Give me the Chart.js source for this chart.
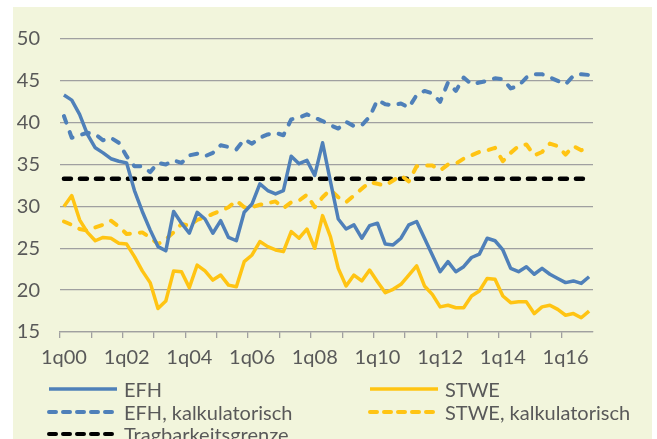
<!DOCTYPE html>
<html lang="de">
<head>
<meta charset="UTF-8">
<title>EFH / STWE Tragbarkeit</title>
<script src="https://cdn.jsdelivr.net/npm/chart.js"></script>
<style>
    body { margin: 0; background: #ffffff; width: 657px; height: 439px; overflow: hidden; font-family: Lato, sans-serif; }
    #panel { position: absolute; left: 13px; top: 7px; width: 639px; height: 432px; background: #f2f5dc; overflow: hidden; }
    #chartBox { position: absolute; left: 0; top: 0; width: 639px; height: 432px; }
    .leg { position: absolute; font-size: 20px; color: #595959; line-height: 20px; white-space: nowrap; }
    .leg svg { position: absolute; left: 0; top: 0; }
    .leg span { position: absolute; left: 77px; top: -3.5px; }
</style>
</head>
<body>
<div id="panel">
    <div id="chartBox"><canvas id="chart"></canvas></div>
    <div id="legend"></div>
</div>
<script>
    const quarters = [
        '1q00','2q00','3q00','4q00','1q01','2q01','3q01','4q01','1q02','2q02','3q02','4q02',
        '1q03','2q03','3q03','4q03','1q04','2q04','3q04','4q04','1q05','2q05','3q05','4q05',
        '1q06','2q06','3q06','4q06','1q07','2q07','3q07','4q07','1q08','2q08','3q08','4q08',
        '1q09','2q09','3q09','4q09','1q10','2q10','3q10','4q10','1q11','2q11','3q11','4q11',
        '1q12','2q12','3q12','4q12','1q13','2q13','3q13','4q13','1q14','2q14','3q14','4q14',
        '1q15','2q15','3q15','4q15','1q16','2q16','3q16','4q16'
    ];
    const efh = [
        43.3, 42.7, 41.0, 38.6, 37.0, 36.4, 35.7, 35.4, 35.2, 31.9, 29.4, 27.2, 25.2, 24.7, 29.4, 28.0, 26.8, 29.3,
        28.5, 26.8, 28.3, 26.3, 25.9, 29.3, 30.3, 32.7, 31.9, 31.5, 31.9, 36.0, 35.1, 35.5, 33.7, 37.6, 33.0,
        28.5, 27.3, 27.8, 26.2, 27.7, 28.0, 25.5, 25.4, 26.2, 27.8, 28.2, 26.2, 24.2, 22.2, 23.4, 22.2, 22.8,
        23.9, 24.3, 26.2, 25.9, 24.8, 22.6, 22.2, 22.8, 21.9, 22.6, 21.9, 21.4, 20.9, 21.1, 20.8, 21.6
    ];
    const efhKalk = [
        40.8, 38.2, 38.5, 38.8, 38.6, 37.9, 38.2, 37.6, 36.0, 34.8, 34.8, 34.1, 35.2, 35.0, 35.5, 35.2, 36.1, 36.3,
        36.0, 36.4, 37.3, 37.1, 36.8, 38.0, 37.5, 38.2, 38.6, 38.8, 38.5, 40.4, 40.6, 41.0, 40.6, 40.2, 39.7,
        39.3, 40.1, 39.6, 39.7, 40.7, 42.7, 42.2, 42.1, 42.3, 41.8, 43.3, 43.8, 43.5, 42.5, 44.8, 43.8, 45.4,
        44.6, 44.8, 45.0, 45.3, 45.2, 44.1, 44.4, 45.4, 45.8, 45.8, 45.4, 45.0, 44.6, 45.6, 45.8, 45.7
    ];
    const stwe = [
        30.0, 31.3, 28.4, 26.9, 25.9, 26.3, 26.2, 25.6, 25.5, 24.0, 22.3, 20.9, 17.8, 18.7, 22.3, 22.2, 20.3, 23.0,
        22.3, 21.2, 21.8, 20.6, 20.4, 23.4, 24.2, 25.8, 25.2, 24.8, 24.6, 27.0, 26.2, 27.3, 25.0, 28.9, 26.4,
        22.6, 20.5, 21.8, 21.1, 22.4, 21.0, 19.7, 20.1, 20.7, 21.8, 22.9, 20.5, 19.5, 18.0, 18.2, 17.9, 17.9,
        19.3, 19.9, 21.4, 21.3, 19.3, 18.5, 18.6, 18.6, 17.2, 18.0, 18.2, 17.7, 17.0, 17.2, 16.7, 17.5
    ];
    const stweKalk = [
        28.2, 27.8, 27.3, 27.1, 27.5, 27.8, 28.3, 27.6, 26.7, 26.8, 26.9, 26.3, 25.5, 26.1, 26.9, 27.9, 27.7, 28.4,
        28.7, 29.1, 29.5, 29.9, 30.7, 29.9, 29.9, 30.2, 30.4, 30.6, 29.8, 30.5, 30.7, 31.4, 29.9, 31.1, 32.0,
        31.1, 30.5, 31.3, 32.1, 32.9, 32.7, 32.5, 33.1, 33.7, 33.0, 34.8, 34.9, 34.9, 34.3, 35.0, 35.1, 35.7,
        36.1, 36.5, 36.7, 37.0, 35.4, 36.4, 37.2, 37.4, 36.1, 36.5, 37.5, 37.2, 36.2, 37.2, 36.7, 37.0
    ];
    const tragbarkeitsgrenze = 33.3;
    const yTicks = [15, 20, 25, 30, 35, 40, 45, 50];

    const blue = '#4f80b9';
    const yellow = '#ffc413';
    const textColor = '#595959';
    const gridColor = '#a0a0a0';

    const series = [
        { label: 'EFH', data: efh, color: blue, dash: [], width: 3.5, col: 0, row: 0 },
        { label: 'STWE', data: stwe, color: yellow, dash: [], width: 3.5, col: 1, row: 0 },
        { label: 'EFH, kalkulatorisch', data: efhKalk, color: blue, dash: [7, 10], width: 4, col: 0, row: 1 },
        { label: 'STWE, kalkulatorisch', data: stweKalk, color: yellow, dash: [7, 10], width: 4, col: 1, row: 1 },
        { label: 'Tragbarkeitsgrenze',
          data: [{ x: quarters[0], y: tragbarkeitsgrenze }, { x: quarters[quarters.length - 1], y: tragbarkeitsgrenze }],
          color: '#000000', dash: [7, 9], width: 4.5, col: 0, row: 2 }
    ];

    // draw order: black line behind, then kalk, then actual values
    const drawOrder = { 'Tragbarkeitsgrenze': 5, 'EFH, kalkulatorisch': 3, 'STWE, kalkulatorisch': 4, 'EFH': 1, 'STWE': 2 };

    new Chart(document.getElementById('chart'), {
        type: 'line',
        data: {
            labels: quarters,
            datasets: series.map(s => ({
                label: s.label,
                data: s.data,
                borderColor: s.color,
                borderWidth: s.width,
                borderDash: s.dash,
                borderCapStyle: s.dash.length ? 'round' : 'butt',
                borderJoinStyle: 'round',
                pointRadius: 0,
                tension: 0,
                fill: false,
                order: drawOrder[s.label]
            }))
        },
        options: {
            responsive: true,
            maintainAspectRatio: false,
            animation: false,
            layout: { padding: { top: 30, right: 59, left: 0, bottom: 0 } },
            plugins: { legend: { display: false }, tooltip: { enabled: false } },
            scales: {
                x: {
                    offset: true,
                    afterFit: scale => { scale.height = 107; },
                    grid: {
                        offset: true,
                        drawOnChartArea: false,
                        tickLength: 6,
                        lineWidth: 1.3,
                        color: ctx => (ctx.index % 4 === 0 ? gridColor : 'rgba(0,0,0,0)')
                    },
                    border: { display: true, color: gridColor, width: 1.3 },
                    ticks: {
                        autoSkip: false,
                        maxRotation: 0,
                        padding: 8,
                        color: textColor,
                        font: { family: 'Lato', size: 20 },
                        callback: (v, i) => (i % 8 === 0 ? quarters[i] : '')
                    }
                },
                y: {
                    min: 15,
                    max: 50,
                    afterFit: scale => { scale.width = 47; },
                    afterBuildTicks: scale => { scale.ticks = yTicks.map(v => ({ value: v })); },
                    grid: { drawTicks: false, color: gridColor, lineWidth: 1.3 },
                    border: { display: false },
                    ticks: {
                        padding: 20,
                        color: textColor,
                        font: { family: 'Lato', size: 20 }
                    }
                }
            }
        }
    });

    // legend below the chart, two columns
    const legend = document.getElementById('legend');
    const colX = [34, 355];
    const rowY = [375, 398, 420];
    series.forEach(s => {
        const div = document.createElement('div');
        div.className = 'leg';
        div.style.left = colX[s.col] + 'px';
        div.style.top = rowY[s.row] + 'px';
        const dash = s.dash.length ? ' stroke-dasharray="7 7" stroke-linecap="round"' : '';
        div.innerHTML = '<svg width="74" height="14"><line x1="2" y1="7" x2="70" y2="7" stroke="' + s.color +
            '" stroke-width="' + Math.min(s.width, 4) + '"' + dash + '/></svg><span>' + s.label + '</span>';
        legend.appendChild(div);
    });
</script>
</body>
</html>
